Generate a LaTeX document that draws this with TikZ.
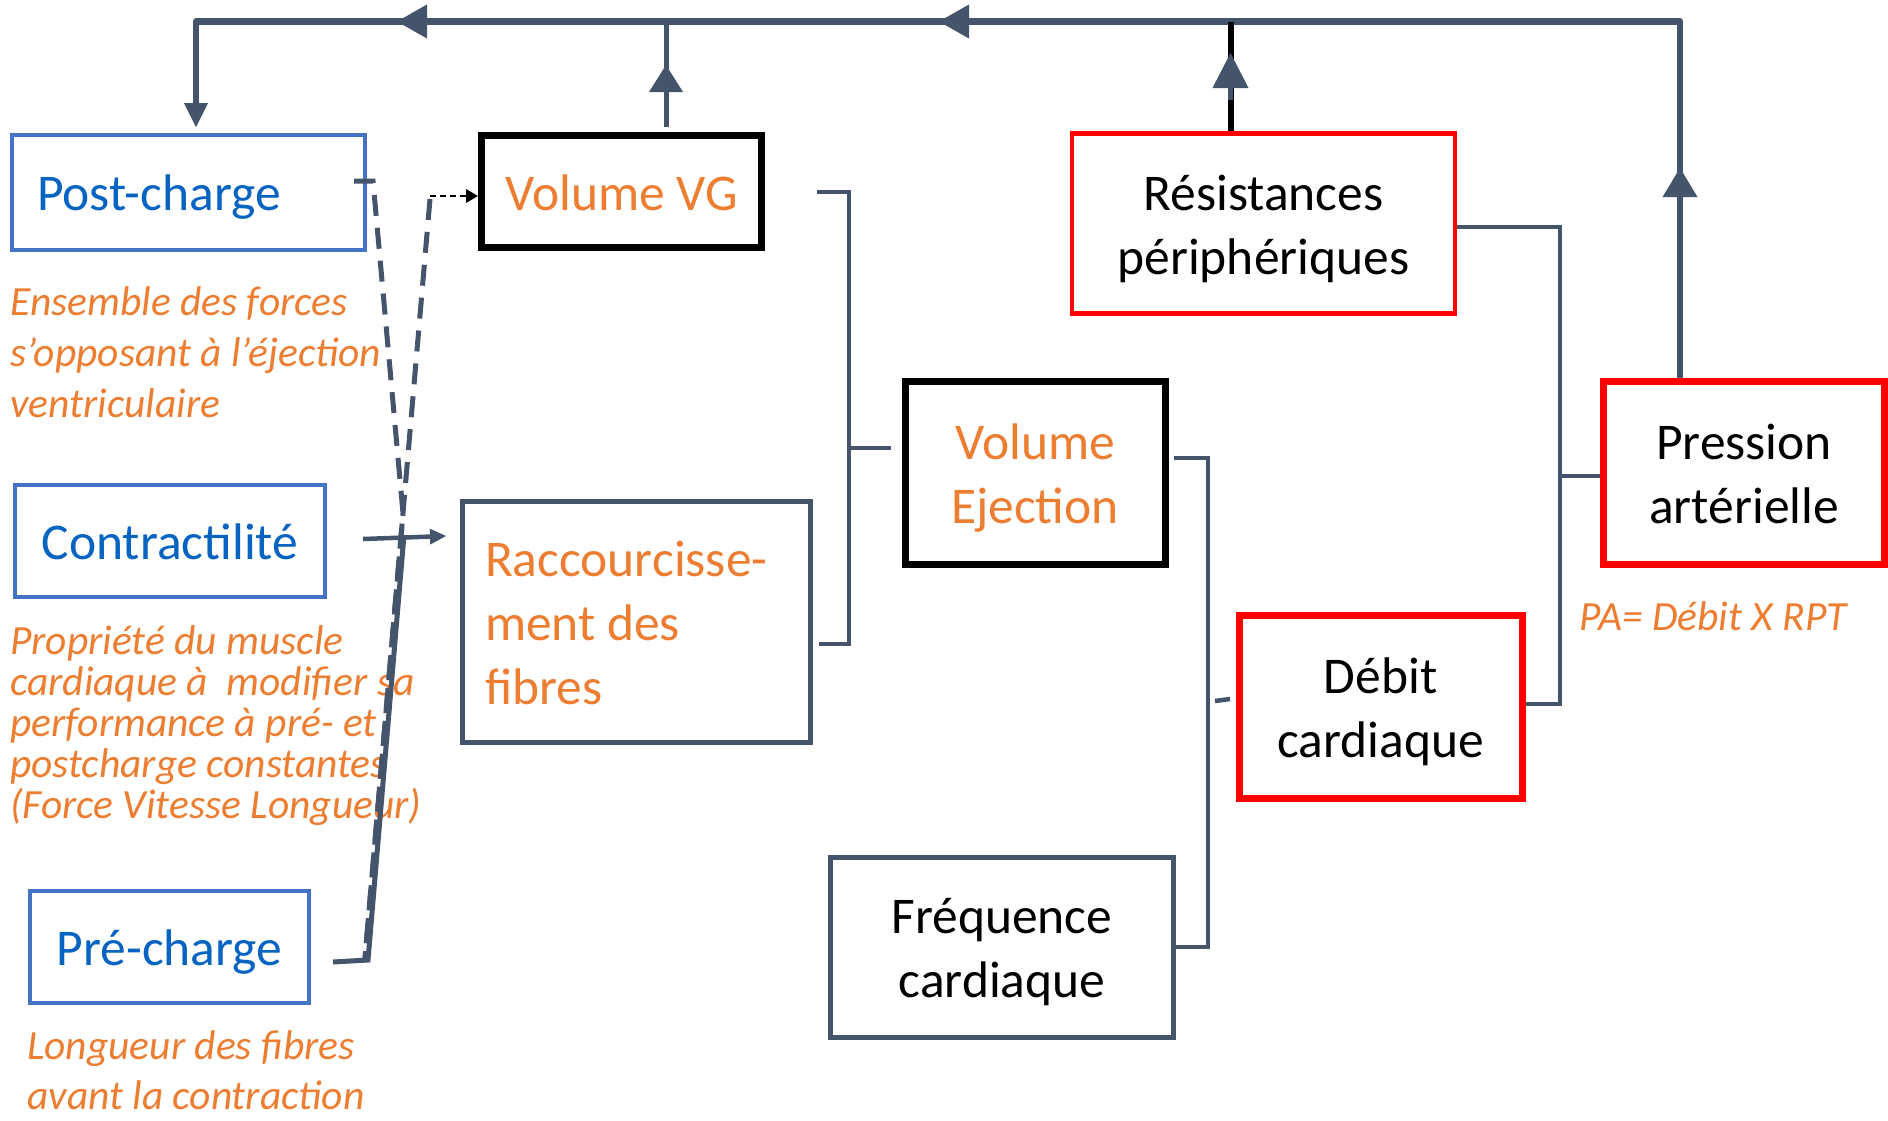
\documentclass[tikz,border=0pt]{standalone}
\usepackage{fontspec}
\setmainfont{Carlito}
\usetikzlibrary{arrows.meta,calc}
\definecolor{slate}{HTML}{44546A}
\definecolor{bbord}{HTML}{4472C4}
\definecolor{btext}{HTML}{0563C1}
\definecolor{orng}{HTML}{ED7D31}
\definecolor{rbord}{HTML}{FF0000}
\newcommand\bxfont{\fontsize{51.5}{64}\selectfont}
\newcommand\anfont{\fontsize{41.5}{50}\selectfont\itshape}
\newcommand\tstrut{\rule{0pt}{57pt}}
\newcommand\bstrut{\rule[-20pt]{0pt}{20pt}}
\begin{document}
\begin{tikzpicture}[x=1pt,y=-1pt,
  box/.style={rectangle, inner sep=0pt, align=center, font=\bxfont,
    execute at begin node=\tstrut, execute at end node=\bstrut},
  two/.style={text width=#1pt, align=flush center},
  bluebox/.style={box, draw=bbord, line width=4pt, text=btext},
  blkbox/.style={box, draw=black, line width=7pt, text=orng},
  redbox/.style={box, draw=rbord, line width=7pt, text=black},
  slbox/.style={box, draw=slate, line width=5pt},
  ann/.style={anchor=base west, inner sep=0pt, font=\anfont, text=orng},
  bus/.style={draw=slate, line width=6.5pt, line join=round},
  conn/.style={draw=slate, line width=5pt},
  brk/.style={draw=slate, line width=4.5pt},
  dsh/.style={draw=slate, line width=5pt, dash pattern=on 21pt off 12pt},
  tipA/.style args={#1/#2}{-{Triangle[length=#1pt,width=#2pt,line width=0pt]}},
]
\fill[white] (0,0) rectangle (1888,1120);
\useasboundingbox (0,0) rectangle (1888,1120);

% ---------- boxes ----------
\node[bluebox, minimum height=115pt, text width=303pt, inner xsep=25pt, align=flush left] (post) at (188.5,192) {Post-charge};
\node[blkbox, minimum width=280pt, minimum height=112pt] (volvg) at (621.5,191.5) {Volume VG};
\node[redbox, line width=4.5pt, two=383, minimum height=180pt] (res) at (1263.4,223.5) {Résistances\\périphériques};
\node[bluebox, minimum width=310pt, minimum height=112pt] (contr) at (170,541) {Contractilité};
\node[slbox, text=orng, minimum height=241pt, text width=303pt, inner xsep=22.5pt, align=flush left] (racc) at (636.5,622) {Raccourcisse-\\ment des\\fibres};
\node[blkbox, two=260, minimum height=183pt] (volej) at (1035,473) {Volume\\Ejection};
\node[redbox, two=281, minimum height=183pt] (pres) at (1744,473) {Pression\\artérielle};
\node[redbox, two=283, minimum height=183pt] (debit) at (1380.7,707) {Débit\\cardiaque};
\node[slbox, two=343, minimum height=180pt] (freq) at (1002,947) {Fréquence\\cardiaque};
\node[bluebox, minimum width=279pt, minimum height=112pt] (pre) at (169.5,947) {Pré-charge};

% ---------- annotations ----------
\node[ann] (e1) at (10,315) {Ensemble des forces};
\node[ann] (e2) at (10,366) {s’opposant à l’éjection};
\node[ann] (e3) at (10,417) {ventriculaire};
\node[ann] (p1) at (10,654) {Propriété du muscle};
\node[ann] (p2) at (10,695) {cardiaque à\ \ modifier sa};
\node[ann] (p3) at (10,736) {performance à pré- et};
\node[ann] (p4) at (10,777) {postcharge constantes};
\node[ann] (p5) at (10,818) {(Force Vitesse Longueur)};
\node[ann] (l1) at (27,1059) {Longueur des fibres};
\node[ann] (l2) at (27,1109) {avant la contraction};
\node[ann] (pa) at (1579,630) {PA= Débit X RPT};

% ---------- helper coordinates ----------
\coordinate (xL) at (196,0);
\coordinate (xV) at (666,0);
\coordinate (xR) at (1230.5,0);
\coordinate (xP) at (1680,0);
\coordinate (yT) at (0,21.5);
\coordinate (xB1) at (849,0);
\coordinate (xB2) at (1208,0);
\coordinate (xB3) at (1560,0);

% ---------- feedback bus ----------
\draw[bus, tipA=24/24, shorten >=5.5pt] (pres.north -| xP) -- (xP |- yT) -- (xL |- yT) -- (post.north -| xL);
\coordinate (pa1) at (1680,205); \coordinate (pa2) at (1680,168);
\draw[bus, tipA=29/35] (pa1) -- (pa2);
\coordinate (ta1) at (440,21.5); \coordinate (ta2) at (397,21.5);
\draw[bus, line width=7pt, tipA=30/34] (ta1) -- (ta2);
\coordinate (tb1) at (982,21.5); \coordinate (tb2) at (939,21.5);
\draw[bus, line width=7pt, tipA=30/34] (tb1) -- (tb2);

% Volume VG -> bus
\draw[conn, shorten <=5pt] (volvg.north -| xV) -- (xV |- yT);
\coordinate (va1) at (666,100); \coordinate (va2) at (666,65);
\draw[conn, tipA=27/34] (va1) -- (va2);

% Resistances -> bus
\draw[draw=black, line width=6pt] (res.north -| xR) -- (xR |- yT);
\coordinate (ra1) at (1230.5,100); \coordinate (ra2) at (1230.5,53);
\draw[conn, tipA=35/36] (ra1) -- (ra2);

% ---------- brackets ----------
\coordinate (b1t) at (817,192);
\coordinate (b1b) at (819,644);
\coordinate (b1m) at (891,448);
\draw[brk] (b1t) -- (xB1 |- b1t) -- (xB1 |- b1b) -- (b1b);
\draw[brk] (xB1 |- b1m) -- (b1m);

\coordinate (b2t) at (1174,458);
\coordinate (y2b) at (0,947);
\draw[brk] (b2t) -- (xB2 |- b2t) -- (xB2 |- y2b) -- (freq.east |- y2b);
\coordinate (st1) at (1215,701); \coordinate (st2) at (1230,699);
\draw[brk] (st1) -- (st2);

\coordinate (y3t) at (0,227);
\coordinate (y3b) at (0,704);
\coordinate (y3m) at (0,476);
\draw[brk] (res.east |- y3t) -- (xB3 |- y3t) -- (xB3 |- y3b) -- (debit.east |- y3b);
\draw[brk] (xB3 |- y3m) -- (pres.west |- y3m);

% ---------- left cluster ----------
\coordinate (ca) at (363,539); \coordinate (cb) at (446,536);
\draw[conn, line width=4.5pt, tipA=16/16] (ca) -- (cb);

\coordinate (s1) at (333,962); \coordinate (s2) at (368,960); \coordinate (s3) at (404,535);
\draw[conn] (s1) -- (s2) -- (s3);

\coordinate (d0) at (354,181); \coordinate (d1) at (373,181);
\coordinate (dx) at (403,513); \coordinate (dz) at (365,958);
\draw[dsh] (d0) -- (d1) -- (dx) -- (dz);

\coordinate (dv) at (430,196);
\coordinate (dw) at (430,199);
\draw[dsh] (dw) -- (dx) -- (dz);
\draw[draw=black, line width=2.2pt, dash pattern=on 6pt off 4pt, tipA=12/14] (dv) -- (volvg.west |- dv);
\end{tikzpicture}
\end{document}
